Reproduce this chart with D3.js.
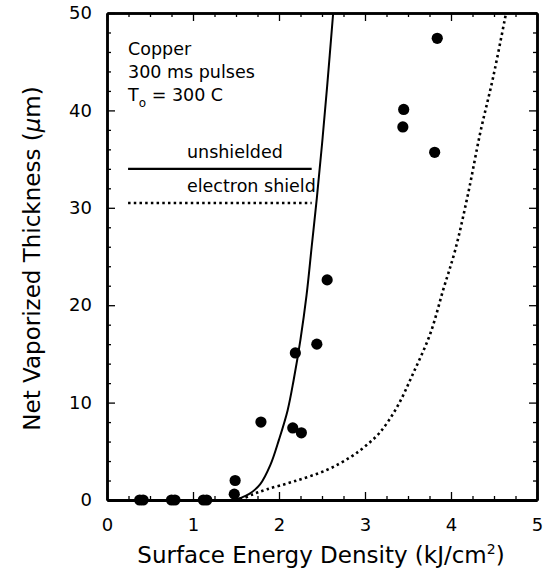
<!DOCTYPE html>
<html>
<head>
<meta charset="utf-8">
<script src="https://cdn.jsdelivr.net/npm/d3@7"></script>
<style>
  body { margin: 0; background: #fff; }
  svg text { font-family: "DejaVu Sans", sans-serif; fill: #000; }
</style>
</head>
<body>
<div id="chart"></div>
<script>
// measured points, Cu, 300 ms pulses
var measured = [
  [0.38, 0], [0.42, 0], [0.75, 0], [0.79, 0], [1.12, 0], [1.16, 0],
  [1.48, 0.6], [1.49, 2.0], [1.79, 8.0],
  [2.16, 7.4], [2.26, 6.9], [2.19, 15.1], [2.44, 16.0], [2.56, 22.6],
  [3.44, 38.3], [3.45, 40.1], [3.81, 35.7], [3.84, 47.4]
];

// model curves
var unshielded = [
  [1.47, 0], [1.55, 0.2], [1.65, 0.6], [1.78, 1.6], [1.9, 3.6], [2.0, 6.2],
  [2.1, 9.2], [2.17, 12.3], [2.25, 16.5], [2.32, 21], [2.38, 26],
  [2.44, 31], [2.5, 36.5], [2.56, 42.5], [2.63, 50]
];
var electronShield = [
  [1.55, 0], [1.7, 0.6], [1.86, 1.1], [2.17, 1.9], [2.56, 3.1], [2.83, 4.4],
  [3.0, 5.5], [3.17, 6.9], [3.37, 9.5], [3.56, 13], [3.76, 17.1],
  [3.91, 21.6], [4.05, 25.7], [4.2, 31.5], [4.34, 37.7], [4.49, 43.4], [4.64, 50]
];

var xTicks = [0, 1, 2, 3, 4, 5];
var yTicks = [0, 10, 20, 30, 40, 50];
var notes = ["Copper", "300 ms pulses"];
var legendItems = [
  { name: "unshielded", y: 34.0, dash: null },
  { name: "electron shield", y: 30.5, dash: "2.5,3.2" }
];

var width = 544, height = 574;
var x = d3.scaleLinear().domain([0, 5]).range([107, 537]);
var y = d3.scaleLinear().domain([0, 50]).range([500, 13]);

var svg = d3.select("#chart").append("svg")
  .attr("width", width)
  .attr("height", height);

var xMinor = d3.range(0, 5.001, 0.25).filter((v) => Math.abs(v - Math.round(v)) > 0.01);
var yMinor = d3.range(0, 50.001, 2).filter((v) => v % 10 != 0);

function styleAxis(g) {
  g.select(".domain").attr("stroke-width", 2.5);
  g.selectAll(".tick line").attr("stroke-width", 1.3);
  g.selectAll(".tick text").style("font-size", "18px").attr("fill", "#000");
}

// bottom
svg.append("g").attr("transform", "translate(0,500)")
  .call(d3.axisBottom(x).tickValues(xMinor).tickSizeInner(-4).tickSizeOuter(0).tickFormat(""))
  .call(styleAxis);
svg.append("g").attr("transform", "translate(0,500)")
  .call(d3.axisBottom(x).tickValues(xTicks).tickSizeInner(-8).tickSizeOuter(0).tickPadding(18).tickFormat(d3.format("d")))
  .call(styleAxis)
  .call((g) => g.select(".domain").attr("stroke-width", 3));
// top
svg.append("g").attr("transform", "translate(0,13)")
  .call(d3.axisTop(x).tickValues(xMinor).tickSizeInner(-4).tickSizeOuter(0).tickFormat(""))
  .call(styleAxis);
svg.append("g").attr("transform", "translate(0,13)")
  .call(d3.axisTop(x).tickValues(xTicks).tickSizeInner(-8).tickSizeOuter(0).tickFormat(""))
  .call(styleAxis);
// left
svg.append("g").attr("transform", "translate(107,0)")
  .call(d3.axisLeft(y).tickValues(yMinor).tickSizeInner(-4).tickSizeOuter(0).tickFormat(""))
  .call(styleAxis);
svg.append("g").attr("transform", "translate(107,0)")
  .call(d3.axisLeft(y).tickValues(yTicks).tickSizeInner(-8).tickSizeOuter(0).tickPadding(15).tickFormat(d3.format("d")))
  .call(styleAxis);
// right
svg.append("g").attr("transform", "translate(537,0)")
  .call(d3.axisRight(y).tickValues(yMinor).tickSizeInner(-4).tickSizeOuter(0).tickFormat(""))
  .call(styleAxis);
svg.append("g").attr("transform", "translate(537,0)")
  .call(d3.axisRight(y).tickValues(yTicks).tickSizeInner(-8).tickSizeOuter(0).tickFormat(""))
  .call(styleAxis);

var line = d3.line()
  .x((d) => x(d[0]))
  .y((d) => y(d[1]))
  .curve(d3.curveCatmullRom.alpha(0.5));

svg.append("path")
  .datum(unshielded)
  .attr("fill", "none")
  .attr("stroke", "#000")
  .attr("stroke-width", 2)
  .attr("d", line);

svg.append("path")
  .datum(electronShield)
  .attr("fill", "none")
  .attr("stroke", "#000")
  .attr("stroke-width", 2.6)
  .attr("stroke-dasharray", "2.5,3.2")
  .attr("d", line);

svg.append("g")
  .selectAll("circle")
  .data(measured)
  .enter()
  .append("circle")
  .attr("cx", (d) => x(d[0]))
  .attr("cy", (d) => y(d[1]))
  .attr("r", 5.6)
  .attr("fill", "#000");

// annotation
var note = svg.append("g").style("font-size", "17.5px");
note.selectAll("text.n")
  .data(notes)
  .enter()
  .append("text")
  .attr("class", "n")
  .attr("x", x(0.245))
  .attr("y", (d, i) => 55 + i * 23)
  .text((d) => d);
var t0 = note.append("text").attr("x", x(0.245)).attr("y", 101);
t0.append("tspan").text("T");
t0.append("tspan").attr("dy", 6).style("font-size", "12px").text("o");
t0.append("tspan").attr("dy", -6).text(" = 300 C");

// legend
var leg = svg.append("g")
  .selectAll("g")
  .data(legendItems)
  .enter()
  .append("g");
leg.append("line")
  .attr("x1", x(0.245))
  .attr("x2", x(2.38))
  .attr("y1", (d) => y(d.y))
  .attr("y2", (d) => y(d.y))
  .attr("stroke", "#000")
  .attr("stroke-width", 2.4)
  .attr("stroke-dasharray", (d) => d.dash);
leg.append("text")
  .attr("x", x(0.93))
  .attr("y", (d) => y(d.y) - 11)
  .style("font-size", "17.5px")
  .text((d) => d.name);

// axis titles
svg.append("text")
  .attr("x", 321)
  .attr("y", 563)
  .attr("text-anchor", "middle")
  .style("font-size", "23px")
  .html("Surface Energy Density (kJ/cm<tspan dy='-9' style='font-size:14px'>2</tspan><tspan dy='9'>)</tspan>");

svg.append("text")
  .attr("transform", "translate(40," + (y(25) + 2) + ") rotate(-90)")
  .attr("text-anchor", "middle")
  .style("font-size", "23px")
  .html("Net Vaporized Thickness (<tspan style='font-style:italic'>µ</tspan>m)");
</script>
</body>
</html>
